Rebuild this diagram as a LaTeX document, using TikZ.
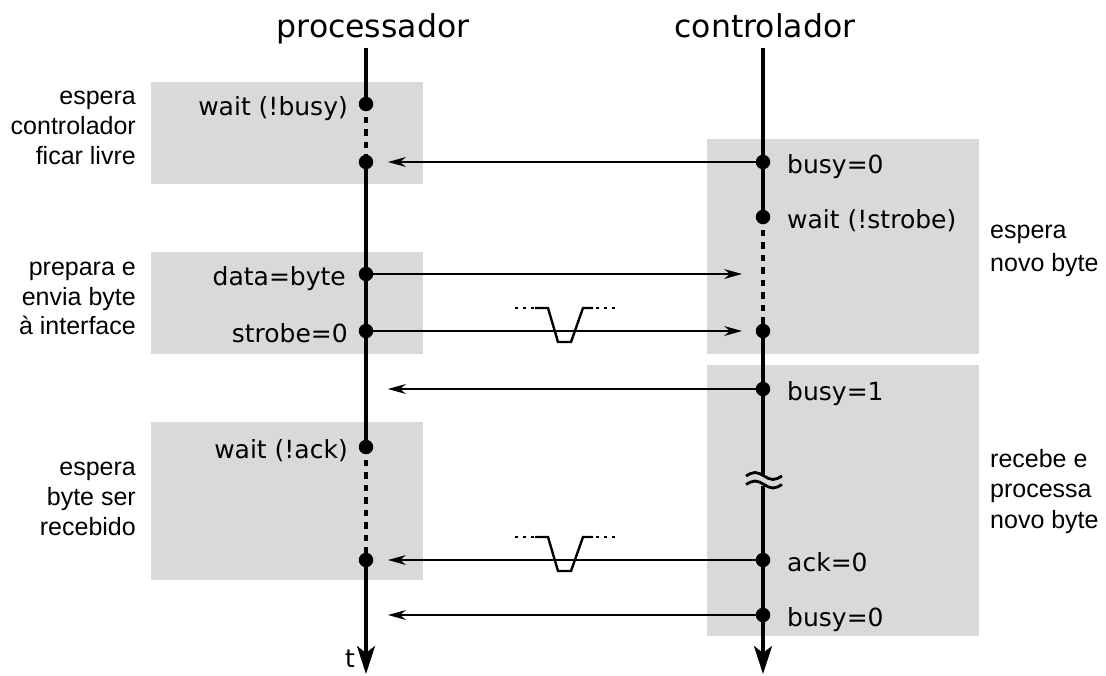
\documentclass[tikz,border=0pt]{standalone}
\usepackage{fontspec}
\setmainfont{DejaVu Sans}
\newfontfamily\sidefont{Liberation Sans}
\usetikzlibrary{arrows.meta}
\definecolor{boxgray}{RGB}{217,217,217}

\tikzset{
  panel/.style={fill=boxgray, draw=none},
  lifeline/.style={line width=3.2pt},
  waitline/.style={line width=3.2pt, dash pattern=on 6.7pt off 5.8pt},
  timearrow/.style={line width=3.2pt, -{Stealth[length=28pt, width=18pt, inset=7pt]}},
  dot/.style={circle, fill=black, draw=none, inner sep=0pt, minimum size=14.5pt},
  msg/.style={line width=1.3pt, -{Stealth[length=18pt, width=10pt, inset=6pt]}},
  title/.style={font=\fontsize{31.5}{38}\selectfont, inner sep=0pt},
  lbl/.style={font=\fontsize{25}{30}\selectfont, inner sep=0pt},
  side/.style={font=\sidefont\fontsize{25}{30}\selectfont, inner sep=0pt},
  strobepulse/.pic={
    \draw[line width=2.4pt, dash pattern=on 2.6pt off 5.6pt] (-51,-23) -- (-32,-23);
    \draw[line width=2.4pt] (-31,-23) -- (-18,-23) -- (-8,11) -- (5,11) -- (17,-23) -- (27,-23);
    \draw[line width=2.4pt, dash pattern=on 2.6pt off 5.6pt] (30,-23) -- (51,-23);
  },
}

\begin{document}
\begin{tikzpicture}[x=1pt, y=-1pt]
\useasboundingbox (0,0) rectangle (1106,675);

% shaded phases
\fill[panel] (151,82) rectangle (423,184);
\fill[panel] (151,252) rectangle (423,354);
\fill[panel] (151,422) rectangle (423,580);
\fill[panel] (707,139) rectangle (979,354);
\fill[panel] (707,365) rectangle (979,636);

% column headings
\node[title, anchor=base] (ptitle) at (373,37) {processador};
\node[title, anchor=base] (ctitle) at (765,37) {controlador};

% end points of the time lines and arrow targets
\coordinate (ptop) at (366,48);
\coordinate (pend) at (366,674);
\coordinate (ctop) at (763,48);
\coordinate (cend) at (763,674);
\coordinate (brkA) at (763,476);
\coordinate (brkB) at (763,486);
\coordinate (pin) at (388,0);
\coordinate (cin) at (742,0);

% events on the processor side
\node[dot] (p1) at (366,104) {};
\node[dot] (p2) at (366,162) {};
\node[dot] (p3) at (366,274) {};
\node[dot] (p4) at (366,331) {};
\node[dot] (p5) at (366,447) {};
\node[dot] (p6) at (366,560) {};

% events on the controller side
\node[dot] (c1) at (763,162) {};
\node[dot] (c2) at (763,217) {};
\node[dot] (c3) at (763,331) {};
\node[dot] (c4) at (763,389) {};
\node[dot] (c5) at (763,560) {};
\node[dot] (c6) at (763,615) {};

% processor time line
\draw[lifeline] (ptop) -- (p1.center);
\draw[waitline] (p1.center) -- (p2.center);
\draw[lifeline] (p2.center) -- (p5.center);
\draw[waitline] (p5.center) -- (p6.center);
\draw[timearrow] (p6.center) -- (pend);

% controller time line
\draw[lifeline] (ctop) -- (c2.center);
\draw[waitline] (c2.center) -- (c3.center);
\draw[lifeline] (c3.center) -- (brkA);
\draw[lifeline] (brkB) -- (c6.center);
\draw[timearrow] (c6.center) -- (cend);

% time break on the controller line
\draw[line width=2.8pt] (746,476) sin (755,472.5) cos (764,476) sin (773,479.5) cos (782,476);
\draw[line width=2.8pt] (746,484.5) sin (755,481) cos (764,484.5) sin (773,488) cos (782,484.5);

% signals
\draw[msg] (c1) -- (c1 -| pin);
\draw[msg] (p3) -- (p3 -| cin);
\draw[msg] (p4) -- (p4 -| cin);
\draw[msg] (c4) -- (c4 -| pin);
\draw[msg] (c5) -- (c5 -| pin);
\draw[msg] (c6) -- (c6 -| pin);

% strobe and ack pulses
\pic at (566,331) {strobepulse};
\pic at (566,560) {strobepulse};

% processor labels
\node[lbl, anchor=base east] (lp1) at (348,115) {wait (!busy)};
\node[lbl, anchor=base east] (lp3) at (346,285) {data=byte};
\node[lbl, anchor=base east] (lp4) at (348,342) {strobe=0};
\node[lbl, anchor=base east] (lp5) at (348,458) {wait (!ack)};

% controller labels
\node[lbl, anchor=base west] (lc1) at (787,173) {busy=0};
\node[lbl, anchor=base west] (lc2) at (787,228) {wait (!strobe)};
\node[lbl, anchor=base west] (lc4) at (787,400) {busy=1};
\node[lbl, anchor=base west] (lc5) at (787,571) {ack=0};
\node[lbl, anchor=base west] (lc6) at (787,626) {busy=0};

% time axis label
\node[lbl, anchor=base east] (tlbl) at (355,667) {t};

% phase descriptions, processor side
\node[side, anchor=base east] (sa1) at (136,104.5) {espera};
\node[side, anchor=base east] (sa2) at (136,134) {controlador};
\node[side, anchor=base east] (sa3) at (136,164) {ficar livre};
\node[side, anchor=base east] (sb1) at (136,275) {prepara e};
\node[side, anchor=base east] (sb2) at (136,305) {envia byte};
\node[side, anchor=base east] (sb3) at (136,334) {à interface};
\node[side, anchor=base east] (sc1) at (136,475) {espera};
\node[side, anchor=base east] (sc2) at (136,505) {byte ser};
\node[side, anchor=base east] (sc3) at (136,535) {recebido};

% phase descriptions, controller side
\node[side, anchor=base west] (sd1) at (990,238) {espera};
\node[side, anchor=base west] (sd2) at (990,271) {novo byte};
\node[side, anchor=base west] (se1) at (990,467) {recebe e};
\node[side, anchor=base west] (se2) at (990,497.5) {processa};
\node[side, anchor=base west] (se3) at (990,528) {novo byte};
\end{tikzpicture}
\end{document}
